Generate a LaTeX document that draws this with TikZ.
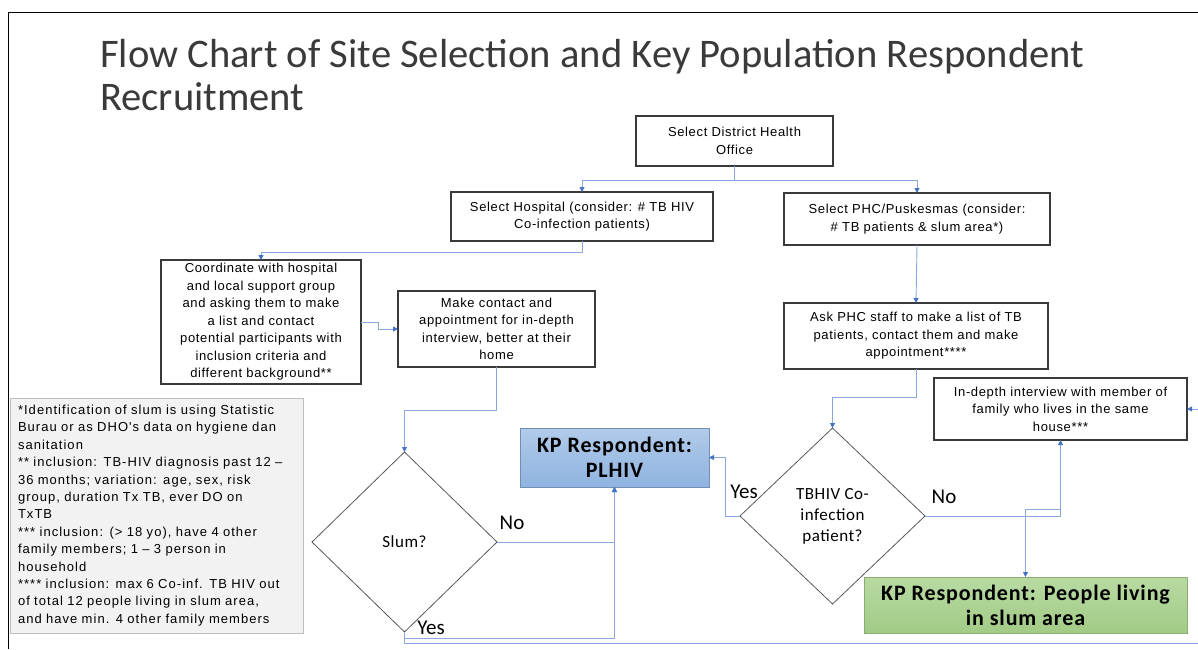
\documentclass[tikz,border=0pt]{standalone}
\usepackage{fontspec}
\setmainfont{Liberation Sans}
\newfontfamily\calibri{Carlito}
\newfontfamily\boxfont[LetterSpace=5]{Liberation Sans}
\newfontfamily\notefont[LetterSpace=8]{Liberation Sans}
\newfontfamily\kpfont[LetterSpace=4]{Carlito}
\newfontfamily\askfont[LetterSpace=3]{Carlito}
\usetikzlibrary{shapes.geometric,arrows.meta}
\definecolor{linkblue}{HTML}{8AA8DC}
\definecolor{tipblue}{HTML}{4472C4}
\definecolor{boxgray}{HTML}{3A3A3A}
\definecolor{titlegray}{HTML}{3A3A3A}
\definecolor{plhivtop}{HTML}{B1CBEA}
\definecolor{plhivbot}{HTML}{8FB3DF}
\definecolor{slumtop}{HTML}{B8DAA2}
\definecolor{slumbot}{HTML}{A2CB86}
\begin{document}
\begin{tikzpicture}[x=1pt, y=-1pt,
  box/.style={draw=boxgray, line width=1.2pt, fill=white, align=center, inner sep=0pt, outer sep=0pt,
    font=\boxfont\fontsize{13}{17.5}\selectfont},
  decision/.style={diamond, draw=boxgray!85, line width=0.8pt, inner sep=0pt, outer sep=0pt, align=center,
    font=\askfont\fontsize{17}{21}\selectfont},
  respondent/.style={draw, line width=1pt, align=center, inner sep=0pt, outer sep=0pt,
    font=\kpfont\bfseries\fontsize{22}{25}\selectfont},
  answer/.style={inner sep=0pt, font=\calibri\fontsize{21}{22}\selectfont},
  link/.style={draw=linkblue, line width=0.9pt},
  arrow/.style={link, -{Triangle[length=5pt, width=5pt, color=tipblue]}}]
  \clip (0,0) rectangle (1198,649);

  % Slide frame and title
  \draw[line width=1pt] (8,649) -- (8,12) -- (1198,12);
  \node[anchor=north west, inner sep=0pt, align=left, text=titlegray,
    font=\calibri\fontsize{40.6}{43}\selectfont] (title) at (100,39)
    {Flow Chart of Site Selection and Key Population Respondent\\Recruitment};

  % Boxes
  \node[box, minimum width=197pt, minimum height=50pt] (dho) at (734.5,141) {Select District Health\\Office};
  \node[box, minimum width=262pt, minimum height=49pt] (hospital) at (582,216.5) {Select Hospital (consider: \# TB HIV\\Co-infection patients)};
  \node[box, minimum width=266pt, minimum height=52pt] (phc) at (917,219) {Select PHC/Puskesmas (consider:\\\# TB patients \& slum area*)};
  \node[box, minimum width=200pt, minimum height=124pt] (coord) at (261,322) {Coordinate with hospital\\and local support group\\and asking them to make\\a list and contact\\potential participants with\\inclusion criteria and\\different background**};
  \node[box, minimum width=197pt, minimum height=76pt] (contact) at (496.5,329) {Make contact and\\appointment for in-depth\\interview, better at their\\home};
  \node[box, minimum width=264pt, minimum height=66pt] (ask) at (916,336) {Ask PHC staff to make a list of TB\\patients, contact them and make\\appointment****};
  \node[box, minimum width=253pt, minimum height=62pt] (indepth) at (1060.5,409) {In-depth interview with member of\\family who lives in the same\\house***};

  % Notes
  \node[draw=black!25, fill=black!5, line width=1pt, inner sep=0pt, minimum width=293pt, minimum height=235pt,
    text width=277pt, align=left, font=\notefont\fontsize{13}{17.4}\selectfont] (notes) at (156.5,515.5)
    {*Identification of slum is using Statistic\\{}Burau or as DHO's data on hygiene dan\\{}sanitation\\{}** inclusion: TB-HIV diagnosis past 12 –\\{}36 months; variation: age, sex, risk\\{}group, duration Tx TB, ever DO on\\{}TxTB\\{}*** inclusion: (> 18 yo), have 4 other\\{}family members; 1 – 3 person in\\{}household\\{}**** inclusion: max 6 Co-inf. TB HIV out\\{}of total 12 people living in slum area,\\{}and have min. 4 other family members};

  % Decisions
  \node[decision, minimum width=185pt, minimum height=180pt] (slum) at (404.5,542) {Slum?};
  \node[decision, minimum width=185pt, minimum height=176pt] (tbhiv) at (832.5,516) {TBHIV Co-\\infection\\patient?};

  % Respondents
  \node[respondent, draw=plhivbot!80!black, top color=plhivtop, bottom color=plhivbot,
    minimum width=189pt, minimum height=59pt] (plhiv) at (614.5,457.5) {KP Respondent:\\PLHIV};
  \node[respondent, draw=slumbot!85!black, top color=slumtop, bottom color=slumbot,
    minimum width=323pt, minimum height=56pt] (slumarea) at (1025.5,605) {KP Respondent: People living\\in slum area};

  % Connectors
  \draw[arrow] (dho.south) -- ++(0,14) -| (hospital.north);
  \draw[arrow] (dho.south) -- ++(0,14) -| (phc.north);
  \draw[arrow] (hospital.south) -- ++(0,11) -| (coord.north);
  \draw[arrow] (coord.east) -- ++(17,0) |- (contact.west);
  \draw[arrow] (contact.south) -- ++(0,43) -| (slum.north);
  \draw[arrow] (phc.south) -- (ask.north);
  \draw[arrow] (ask.south) -- ++(0,28) -| (tbhiv.north);
  \draw[arrow] (slum.east) -| (plhiv.south);
  \draw[arrow] (slum.south) -- ++(0,6) -| (plhiv.south);
  \draw[arrow] (slum.south) |- (1210,643) |- (indepth.east);
  \draw[arrow] (tbhiv.west) -- ++(-15,0) |- (plhiv.east);
  \draw[arrow] (tbhiv.east) -| (indepth.south);
  \coordinate (split) at (1060.5,509);
  \draw[arrow] (split) -| (slumarea.north);

  % Labels
  \node[answer] (slumno) at (512,523) {No};
  \node[answer] (slumyes) at (431,628) {Yes};
  \node[answer] (tbyes) at (744,492) {Yes};
  \node[answer] (tbno) at (944,497) {No};
\end{tikzpicture}
\end{document}
